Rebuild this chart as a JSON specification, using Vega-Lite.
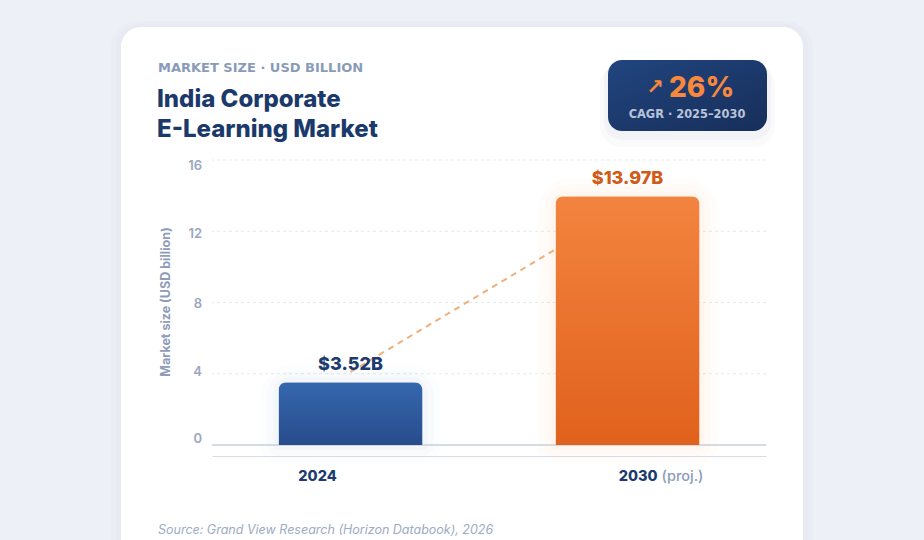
{
  "$schema": "https://vega.github.io/schema/vega-lite/v6.json",
  "width": 554,
  "height": 285,
  "autosize": {"type": "none"},
  "padding": {"left": 212, "top": 160, "right": 158, "bottom": 95},
  "background": "#edf0f6",
  "config": {"view": {"stroke": null}, "font": "Inter"},
  "datasets": {
    "bars": [
      {"year": "2024", "value": 3.52, "label": "$3.52B"},
      {"year": "2030", "value": 13.97, "label": "$13.97B"}
    ],
    "trend": [
      {"year": "2024", "value": 4.1},
      {"year": "2030", "value": 13.4}
    ],
    "ticks": [{"v": 0}, {"v": 4}, {"v": 8}, {"v": 12}, {"v": 16}],
    "one": [{}]
  },
  "layer": [
    {"data": {"name": "one"}, "mark": {"type": "rect", "x": -101, "x2": 601, "y": -139, "y2": 440, "cornerRadius": 28, "fill": "#c5cee0", "opacity": 0.06}, "encoding": {}},
    {"data": {"name": "one"}, "mark": {"type": "rect", "x": -96, "x2": 596, "y": -136, "y2": 430, "cornerRadius": 24, "fill": "#c5cee0", "opacity": 0.08}, "encoding": {}},
    {"data": {"name": "one"}, "mark": {"type": "rect", "x": -91, "x2": 591, "y": -133, "y2": 420, "cornerRadius": 20, "fill": "#ffffff"}, "encoding": {}},
    {"data": {"name": "one"}, "mark": {"type": "rect", "x": 388, "x2": 563, "y": -96, "y2": -13, "cornerRadius": 22, "fill": "#1b3566", "opacity": 0.025}, "encoding": {}},
    {"data": {"name": "one"}, "mark": {"type": "rect", "x": 392, "x2": 559, "y": -98, "y2": -20, "cornerRadius": 18, "fill": "#1b3566", "opacity": 0.035}, "encoding": {}},
    {"data": {"name": "one"}, "mark": {"type": "rect", "x": 396, "x2": 555, "y": -100, "y2": -29, "cornerRadius": 14,
      "fill": {"gradient": "linear", "x1": 0, "y1": 0, "x2": 1, "y2": 1, "stops": [{"offset": 0, "color": "#21457f"}, {"offset": 1, "color": "#172e5a"}]}}, "encoding": {}},
    {"data": {"name": "one"}, "mark": {"type": "text", "x": 443, "y": -72, "text": "↗", "font": "DejaVu Sans", "fontSize": 21, "fontWeight": "bold", "color": "#f7883e", "align": "center", "baseline": "middle"}, "encoding": {}},
    {"data": {"name": "one"}, "mark": {"type": "text", "x": 457, "y": -71, "text": "26%", "fontSize": 28, "fontWeight": 800, "color": "#f7883e", "align": "left", "baseline": "middle"}, "encoding": {}},
    {"data": {"name": "one"}, "mark": {"type": "text", "x": 475, "y": -45, "text": "CAGR · 2025–2030", "font": "DejaVu Sans", "fontSize": 11.4, "fontWeight": "bold", "color": "#b8c4da", "align": "center", "baseline": "middle"}, "encoding": {}},
    {"data": {"name": "one"}, "mark": {"type": "text", "x": -54, "y": -92, "text": "MARKET SIZE · USD BILLION", "font": "DejaVu Sans", "fontSize": 13, "fontWeight": "bold", "color": "#8a9bb8", "align": "left", "baseline": "middle"}, "encoding": {}},
    {"data": {"name": "one"}, "mark": {"type": "text", "x": -55, "y": -60, "text": "India Corporate", "fontSize": 24, "fontWeight": 800, "color": "#1b3a6b", "align": "left", "baseline": "middle"}, "encoding": {}},
    {"data": {"name": "one"}, "mark": {"type": "text", "x": -55, "y": -30, "text": "E-Learning Market", "fontSize": 24, "fontWeight": 800, "color": "#1b3a6b", "align": "left", "baseline": "middle"}, "encoding": {}},
    {"data": {"name": "one"}, "mark": {"type": "rule", "x": -54, "x2": 554, "y": 345, "y2": 345, "color": "#eceff4", "strokeWidth": 1}, "encoding": {}},
    {"data": {"name": "one"}, "mark": {"type": "text", "x": -54, "y": 370, "text": "Source: Grand View Research (Horizon Databook), 2026", "fontSize": 12.5, "fontStyle": "italic", "color": "#9eabc4", "align": "left", "baseline": "middle"}, "encoding": {}},
    {"data": {"name": "one"}, "mark": {"type": "text", "x": -46, "y": 142, "angle": 270, "text": "Market size (USD billion)", "fontSize": 12.5, "fontWeight": 700, "color": "#8e9cb9", "align": "center", "baseline": "middle"}, "encoding": {}},
    {"data": {"name": "ticks"}, "transform": [{"filter": "datum.v > 0"}],
      "mark": {"type": "rule", "strokeDash": [3, 3], "color": "#e4e8f0", "strokeWidth": 1},
      "encoding": {"y": {"field": "v", "type": "quantitative", "scale": {"domain": [0, 16], "nice": false}, "axis": null}}},
    {"data": {"name": "ticks"}, "transform": [{"filter": "datum.v === 0"}],
      "mark": {"type": "text", "x": -10, "dy": -6, "align": "right", "baseline": "middle", "fontSize": 13, "fontWeight": 600, "color": "#9ba7c0"},
      "encoding": {"y": {"field": "v", "type": "quantitative", "axis": null}, "text": {"field": "v", "type": "quantitative"}}},
    {"data": {"name": "ticks"}, "transform": [{"filter": "datum.v === 4"}],
      "mark": {"type": "text", "x": -10, "dy": -2, "align": "right", "baseline": "middle", "fontSize": 13, "fontWeight": 600, "color": "#9ba7c0"},
      "encoding": {"y": {"field": "v", "type": "quantitative", "axis": null}, "text": {"field": "v", "type": "quantitative"}}},
    {"data": {"name": "ticks"}, "transform": [{"filter": "datum.v === 8"}],
      "mark": {"type": "text", "x": -10, "dy": 1, "align": "right", "baseline": "middle", "fontSize": 13, "fontWeight": 600, "color": "#9ba7c0"},
      "encoding": {"y": {"field": "v", "type": "quantitative", "axis": null}, "text": {"field": "v", "type": "quantitative"}}},
    {"data": {"name": "ticks"}, "transform": [{"filter": "datum.v === 12"}],
      "mark": {"type": "text", "x": -10, "dy": 3, "align": "right", "baseline": "middle", "fontSize": 13, "fontWeight": 600, "color": "#9ba7c0"},
      "encoding": {"y": {"field": "v", "type": "quantitative", "axis": null}, "text": {"field": "v", "type": "quantitative"}}},
    {"data": {"name": "ticks"}, "transform": [{"filter": "datum.v === 16"}],
      "mark": {"type": "text", "x": -10, "dy": 6, "align": "right", "baseline": "middle", "fontSize": 13, "fontWeight": 600, "color": "#9ba7c0"},
      "encoding": {"y": {"field": "v", "type": "quantitative", "axis": null}, "text": {"field": "v", "type": "quantitative"}}},
    {
      "data": {"name": "bars"},
      "encoding": {
        "x": {"field": "year", "type": "nominal",
          "scale": {"domain": ["2024", "2030"], "paddingInner": 0.48, "paddingOuter": 0.24},
          "axis": {"title": null, "labels": false, "ticks": false, "domain": true, "domainColor": "#d7dce7", "offset": 11, "grid": false, "zindex": 1}},
        "y": {"field": "value", "type": "quantitative", "axis": null}
      },
      "layer": [
        {"mark": {"type": "bar", "fillOpacity": 0, "strokeWidth": 36, "strokeOpacity": 0.025, "strokeJoin": "round", "cornerRadiusTopLeft": 16, "cornerRadiusTopRight": 16},
          "encoding": {"stroke": {"condition": {"test": "datum.year === '2024'", "value": "#8aa0c8"}, "value": "#f59a62"}}},
        {"mark": {"type": "bar", "fillOpacity": 0, "strokeWidth": 22, "strokeOpacity": 0.03, "strokeJoin": "round", "cornerRadiusTopLeft": 12, "cornerRadiusTopRight": 12},
          "encoding": {"stroke": {"condition": {"test": "datum.year === '2024'", "value": "#8aa0c8"}, "value": "#f59a62"}}},
        {"mark": {"type": "bar", "fillOpacity": 0, "strokeWidth": 10, "strokeOpacity": 0.04, "strokeJoin": "round", "cornerRadiusTopLeft": 10, "cornerRadiusTopRight": 10},
          "encoding": {"stroke": {"condition": {"test": "datum.year === '2024'", "value": "#8aa0c8"}, "value": "#f59a62"}}},
        {"mark": {"type": "rule", "color": "#c8cfdc", "strokeWidth": 1.2},
          "encoding": {"x": {"value": 0}, "x2": {"value": 554}, "y": {"datum": 0}}},
        {"data": {"name": "trend"}, "mark": {"type": "line", "strokeDash": [6, 5], "strokeWidth": 2, "color": "#eeb07a"}},
        {"mark": {"type": "bar", "cornerRadiusTopLeft": 8, "cornerRadiusTopRight": 8},
          "encoding": {"fill": {"condition": {"test": "datum.year === '2024'",
            "value": {"gradient": "linear", "x1": 0, "y1": 0, "x2": 0, "y2": 1, "stops": [{"offset": 0, "color": "#3567ae"}, {"offset": 1, "color": "#284c8c"}]}},
            "value": {"gradient": "linear", "x1": 0, "y1": 0, "x2": 0, "y2": 1, "stops": [{"offset": 0, "color": "#f3843f"}, {"offset": 1, "color": "#e0611c"}]}}}},
        {"mark": {"type": "text", "baseline": "bottom", "dy": -8, "fontSize": 18, "fontWeight": 800},
          "encoding": {"text": {"field": "label"},
            "color": {"condition": {"test": "datum.year === '2024'", "value": "#1e3b6f"}, "value": "#d05a18"}}},
        {"transform": [{"filter": "datum.year === '2024'"}],
          "mark": {"type": "text", "align": "center", "baseline": "middle", "dx": -33, "fontSize": 14.5, "fontWeight": 800, "color": "#1e3b6f"},
          "encoding": {"y": {"value": 317}, "text": {"field": "year"}}},
        {"transform": [{"filter": "datum.year === '2030'"}],
          "mark": {"type": "text", "align": "right", "baseline": "middle", "dx": 30, "fontSize": 14.5, "fontWeight": 800, "color": "#1e3b6f"},
          "encoding": {"y": {"value": 317}, "text": {"field": "year"}}},
        {"transform": [{"filter": "datum.year === '2030'"}],
          "mark": {"type": "text", "align": "left", "baseline": "middle", "dx": 34, "fontSize": 14.5, "fontWeight": 500, "color": "#8c9bb8"},
          "encoding": {"y": {"value": 317}, "text": {"value": "(proj.)"}}}
      ]
    }
  ]
}
